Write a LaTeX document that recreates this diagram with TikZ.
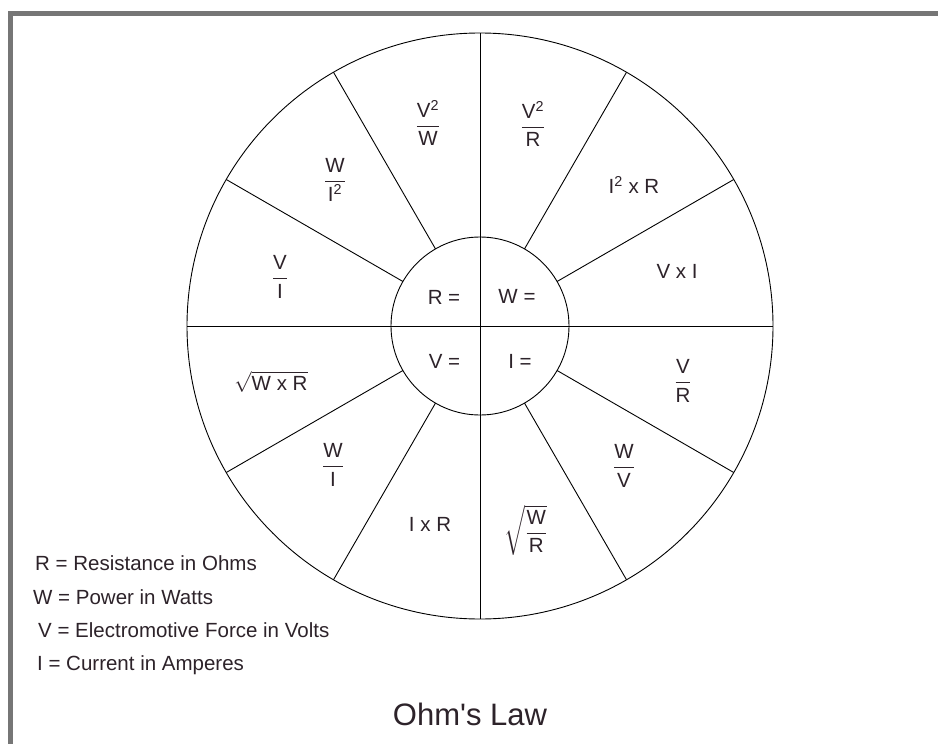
\documentclass[tikz,border=0pt]{standalone}
\usepackage{amsmath}
\usepackage{fontspec}
\setmainfont{Liberation Sans}
\newfontfamily\plainsans{Liberation Sans}
\usetikzlibrary{calc}
\definecolor{txt}{RGB}{45,35,42}
\definecolor{framec}{RGB}{118,118,118}
\newcommand{\fq}[2]{$\dfrac{\text{#1}}{\text{#2}}$}
\begin{document}
\begin{tikzpicture}[x=1pt,y=-1pt,
  lbl/.style={text=txt,font=\fontsize{20.5}{24}\selectfont,inner sep=0pt},
  leg/.style={text=txt,font=\fontsize{20.5}{24}\selectfont,inner sep=0pt,anchor=west},
  ttl/.style={text=txt,font=\plainsans\fontsize{31}{36}\selectfont,inner sep=0pt},
  wheel/.style={draw=black,line width=0.9pt}]
\useasboundingbox (0,0) rectangle (938,744);
\fill[white] (0,0) rectangle (938,744);
% frame
\fill[framec] (8,11) rectangle (938,15.5);
\fill[framec] (8,11) rectangle (13,744);
% wheel
\coordinate (O) at (480,326);
\draw[wheel] (O) circle[radius=293];
\draw[wheel,fill=white] (O) circle[radius=89];
\foreach \a in {30,60,120,150,210,240,300,330}{
  \draw[wheel] ($(O)+(\a:89)$) -- ($(O)+(\a:293)$);
}
\coordinate (L) at ($(O)+(180:293)$);
\coordinate (R) at ($(O)+(0:293)$);
\coordinate (T) at ($(O)+(270:293)$);
\coordinate (B) at ($(O)+(90:293)$);
\draw[wheel] (L) -- (R);
\draw[wheel] (T) -- (B);
% inner
\node[lbl] (ri) at (444,297.5) {R =};
\node[lbl] (wi) at (517,296) {W =};
\node[lbl] (vi) at (444.5,361.5) {V =};
\node[lbl] (ii) at (520,361.5) {I =};
% outer formulas
\node[lbl] (f1) at (428,123) {\fq{V\textsuperscript{2}}{W}};
\node[lbl] (f2) at (533,124) {\fq{V\textsuperscript{2}}{R}};
\node[lbl] (f3) at (335,180) {\fq{W}{I\textsuperscript{2}}};
\node[lbl] (f4) at (634,185) {I\textsuperscript{2} x R};
\node[lbl] (f5) at (280,277) {\fq{V}{I}};
\node[lbl] (f6) at (677,271.5) {V x I};
\node[lbl] (f7) at (683,381) {\fq{V}{R}};
\node[lbl] (f8) at (624,466) {\fq{W}{V}};
\node[lbl] (f9) at (526,530) {$\sqrt{\dfrac{\text{W}}{\text{R}}}$};
\node[lbl] (f10) at (430,524) {I x R};
\node[lbl] (f11) at (333,465) {\fq{W}{I}};
\node[lbl] (f12) at (271,382) {$\sqrt{\text{W x R}}$};
% legend
\node[leg] (l1) at (35,563) {R = Resistance in Ohms};
\node[leg] (l2) at (33,597) {W = Power in Watts};
\node[leg] (l3) at (38,630) {V = Electromotive Force in Volts};
\node[leg] (l4) at (37,665) {I = Current in Amperes};
\node[ttl] (title) at (470,714) {Ohm's Law};
\end{tikzpicture}
\end{document}
